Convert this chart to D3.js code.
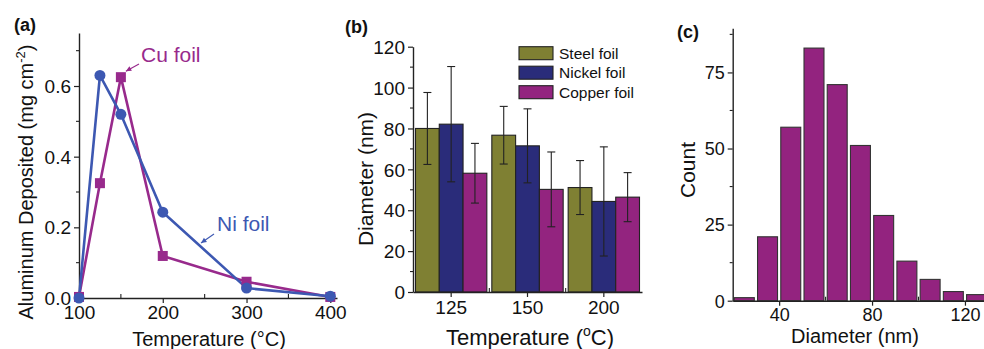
<!DOCTYPE html>
<html><head><meta charset="utf-8">
<script src="https://cdn.jsdelivr.net/npm/d3@7"></script>
<style>
body{margin:0;background:#fff;}
svg{display:block;font-family:"Liberation Sans",Arial,sans-serif;}
</style></head>
<body>
<svg id="c" width="984" height="349"></svg>
<script>
// ---------- Data ----------
// Panel (a)
const tempA = [100, 125, 150, 200, 300, 400];
const niFoil = [0.0, 0.63, 0.52, 0.243, 0.028, 0.005];
const cuFoil = [0.003, 0.325, 0.625, 0.119, 0.046, 0.003];
const aXTicks = [100, 200, 300, 400];
const aYTicks = [0.0, 0.2, 0.4, 0.6];
// Panel (b)
const tempB = ["125", "150", "200"];
const seriesB = ["Steel foil", "Nickel foil", "Copper foil"];
const steelD = [80, 76.7, 51.1];
const nickelD = [82.1, 71.5, 44.3];
const copperD = [58.1, 50.2, 46.4];
const steelErr = [17.6, 14.1, 13.2];
const nickelErr = [28.2, 18.1, 26.7];
const copperErr = [14.6, 18.3, 12.0];
const bYTicks = [0, 20, 40, 60, 80, 100, 120];
// Panel (c)
const binCenters = [25, 35, 45, 55, 65, 75, 85, 95, 105, 115, 125];
const counts = [1, 21, 57, 83, 71, 51, 28, 13, 7, 3, 2];
const cXTicks = [40, 80, 120];
const cYTicks = [0, 25, 50, 75];

// ---------- Style ----------
const AX = "#222";
const BLUE = "#3d58b2";
const PURP = "#982a8c";
const barColors = ["#7f8033", "#2a2c7a", "#93247f"];

const svg = d3.select("#c");

function axisStyle(g){
  g.selectAll("path.domain").attr("stroke", AX).attr("stroke-width", 1.4);
  g.selectAll(".tick line").attr("stroke", AX).attr("stroke-width", 1.2);
  g.selectAll(".tick text").attr("fill", "#111");
}
function minorTicks(g, scale, vals, orient, len){
  vals.forEach(v=>{
    const p = scale(v);
    if(orient==="x") g.append("line").attr("x1",p).attr("x2",p).attr("y1",0).attr("y2",len).attr("stroke",AX).attr("stroke-width",1.1);
    else g.append("line").attr("y1",p).attr("y2",p).attr("x1",0).attr("x2",len).attr("stroke",AX).attr("stroke-width",1.1);
  });
}

// ---------- Panel (a) ----------
{
  const x = d3.scaleLinear().domain([100, 408]).range([79, 337]);
  const y = d3.scaleLinear().domain([0, 0.75]).range([298, 33]);
  const gx = svg.append("g").attr("transform","translate(0,298)")
    .call(d3.axisBottom(x).tickValues(aXTicks).tickSize(5).tickSizeOuter(0).tickPadding(3).tickFormat(d3.format("d")));
  gx.selectAll(".tick text").attr("font-size", 19);
  axisStyle(gx);
  minorTicks(gx, x, [150, 250, 350], "x", -4);
  const gy = svg.append("g").attr("transform","translate(79,0)")
    .call(d3.axisLeft(y).tickValues(aYTicks).tickSize(5).tickSizeOuter(0).tickPadding(3).tickFormat(d3.format(".1f")));
  gy.selectAll(".tick text").attr("font-size", 19).attr("dy","0.35em");
  axisStyle(gy);
  minorTicks(gy, y, [0.1, 0.3, 0.5, 0.7], "y", -3);

  const line = d3.line().x((d,i)=>x(tempA[i])).y(d=>y(d));
  svg.append("path").datum(cuFoil).attr("d", line).attr("fill","none").attr("stroke",PURP).attr("stroke-width",2.6);
  svg.append("path").datum(niFoil).attr("d", line).attr("fill","none").attr("stroke",BLUE).attr("stroke-width",2.6);
  svg.selectAll("rect.cu").data(cuFoil).join("rect").attr("class","cu")
    .attr("x",(d,i)=>x(tempA[i])-5).attr("y",d=>y(d)-5).attr("width",10).attr("height",10).attr("fill",PURP);
  svg.selectAll("circle.ni").data(niFoil).join("circle").attr("class","ni")
    .attr("cx",(d,i)=>x(tempA[i])).attr("cy",d=>y(d)).attr("r",5.5).attr("fill",BLUE);

  // annotations
  svg.append("text").attr("x",141).attr("y",62).attr("font-size",21).attr("fill",PURP).text("Cu foil");
  svg.append("text").attr("x",217).attr("y",231).attr("font-size",21).attr("fill",BLUE).text("Ni foil");
  function arrow(x1,y1,x2,y2,col){
    svg.append("line").attr("x1",x1).attr("y1",y1).attr("x2",x2).attr("y2",y2).attr("stroke",col).attr("stroke-width",1.1);
    const a = Math.atan2(y2-y1,x2-x1), L=6, w=0.45;
    const p = [[x2,y2],[x2-L*Math.cos(a-w),y2-L*Math.sin(a-w)],[x2-L*Math.cos(a+w),y2-L*Math.sin(a+w)]];
    svg.append("polygon").attr("points",p.map(q=>q.join(",")).join(" ")).attr("fill",col);
  }
  arrow(139, 64, x(150)+5, y(cuFoil[2])-6, PURP);
  arrow(214, 234, 201, 243, BLUE);

  svg.append("text").attr("x",209).attr("y",346).attr("text-anchor","middle").attr("font-size",20).attr("fill","#111").text("Temperature (°C)");
  const ty = svg.append("text").attr("transform","translate(33,182) rotate(-90)").attr("text-anchor","middle").attr("font-size",20).attr("fill","#111");
  ty.append("tspan").text("Aluminum Deposited (mg cm");
  ty.append("tspan").attr("font-size",13).attr("dy",-8).text("-2");
  ty.append("tspan").attr("dy",8).text(")");
  svg.append("text").attr("x",14).attr("y",31).attr("font-size",18).attr("font-weight","bold").attr("fill","#111").text("(a)");
}

// ---------- Panel (b) ----------
{
  const x0 = d3.scaleBand().domain(tempB).range([413, 642]).paddingInner(0).paddingOuter(0);
  const x1 = d3.scaleBand().domain(seriesB).range([0, x0.bandwidth()]).paddingOuter(0.105).paddingInner(0);
  const y = d3.scaleLinear().domain([0, 120]).range([292, 46.7]);
  const vals = [steelD, nickelD, copperD];
  const errs = [steelErr, nickelErr, copperErr];

  const data = [];
  tempB.forEach((t,i)=>seriesB.forEach((s,j)=>data.push({t,s,j,v:vals[j][i],e:errs[j][i]})));

  svg.selectAll("rect.bb").data(data).join("rect").attr("class","bb")
    .attr("x",d=>x0(d.t)+x1(d.s)).attr("width",x1.bandwidth())
    .attr("y",d=>y(d.v)).attr("height",d=>y(0)-y(d.v))
    .attr("fill",d=>barColors[d.j]).attr("stroke","#222").attr("stroke-width",1.1);
  // error bars
  const eg = svg.append("g").attr("stroke","#222").attr("stroke-width",1.1);
  data.forEach(d=>{
    const cx = x0(d.t)+x1(d.s)+x1.bandwidth()/2;
    eg.append("line").attr("x1",cx).attr("x2",cx).attr("y1",y(d.v+d.e)).attr("y2",y(d.v-d.e));
    [d.v+d.e, d.v-d.e].forEach(v=>eg.append("line").attr("x1",cx-4).attr("x2",cx+4).attr("y1",y(v)).attr("y2",y(v)));
  });

  const gx = svg.append("g").attr("transform","translate(0,292)")
    .call(d3.axisBottom(x0).tickSize(5).tickSizeOuter(0).tickPadding(4));
  gx.selectAll(".tick text").attr("font-size", 19);
  axisStyle(gx);
  minorTicks(gx, d3.scaleLinear().domain([0,3]).range([413,642]), [1, 2], "x", -4);
  const gy = svg.append("g").attr("transform","translate(413,0)")
    .call(d3.axisLeft(y).tickValues(bYTicks).tickSize(5).tickSizeOuter(0).tickPadding(3));
  gy.selectAll(".tick text").attr("font-size", 19).attr("dy","0.35em");
  axisStyle(gy);
  minorTicks(gy, y, [10,30,50,70,90,110], "y", -3);

  // legend
  const lg = svg.append("g");
  seriesB.forEach((s,j)=>{
    const yy = 46.7 + j*19.5;
    lg.append("rect").attr("x",519).attr("y",yy).attr("width",34).attr("height",13)
      .attr("fill",barColors[j]).attr("stroke","#222").attr("stroke-width",1.1);
    lg.append("text").attr("x",559).attr("y",yy+12).attr("font-size",15.5).attr("fill","#111").text(s);
  });

  const tx = svg.append("text").attr("x",530).attr("y",345).attr("text-anchor","middle").attr("font-size",22).attr("fill","#111");
  tx.append("tspan").text("Temperature (");
  tx.append("tspan").attr("font-size",14).attr("dy",-9).text("o");
  tx.append("tspan").attr("dy",9).text("C)");
  svg.append("text").attr("transform","translate(373,179) rotate(-90)").attr("text-anchor","middle").attr("font-size",21).attr("fill","#111").text("Diameter (nm)");
  svg.append("text").attr("x",345).attr("y",33).attr("font-size",18).attr("font-weight","bold").attr("fill","#111").text("(b)");
}

// ---------- Panel (c) ----------
{
  const x = d3.scaleLinear().domain([20, 128.2]).range([732.7, 984]);
  const y = d3.scaleLinear().domain([0, 89.5]).range([300.7, 28.3]);
  const bw = 8.6;
  svg.selectAll("rect.hc").data(counts).join("rect").attr("class","hc")
    .attr("x",(d,i)=>x(binCenters[i]-bw/2)).attr("width",(d,i)=>x(binCenters[i]+bw/2)-x(binCenters[i]-bw/2))
    .attr("y",d=>y(d)).attr("height",d=>y(0)-y(d))
    .attr("fill","#93237f").attr("stroke","#333").attr("stroke-width",1.1);

  const gx = svg.append("g").attr("transform","translate(0,300.7)")
    .call(d3.axisBottom(x).tickValues(cXTicks).tickSize(5).tickSizeOuter(0).tickPadding(3));
  gx.selectAll(".tick text").attr("font-size", 18);
  axisStyle(gx);
  minorTicks(gx, x, [60, 100], "x", -4);
  const gy = svg.append("g").attr("transform","translate(732.7,0)")
    .call(d3.axisLeft(y).tickValues(cYTicks).tickSize(5).tickSizeOuter(0).tickPadding(3));
  gy.selectAll(".tick text").attr("font-size", 18).attr("dy","0.35em");
  axisStyle(gy);
  minorTicks(gy, y, [12.5, 37.5, 62.5, 87.5], "y", -3);

  svg.append("text").attr("x",855).attr("y",343).attr("text-anchor","middle").attr("font-size",20).attr("fill","#111").text("Diameter (nm)");
  svg.append("text").attr("transform","translate(695,170) rotate(-90)").attr("text-anchor","middle").attr("font-size",21).attr("fill","#111").text("Count");
  svg.append("text").attr("x",677).attr("y",38).attr("font-size",18).attr("font-weight","bold").attr("fill","#111").text("(c)");
}
</script>
</body></html>
